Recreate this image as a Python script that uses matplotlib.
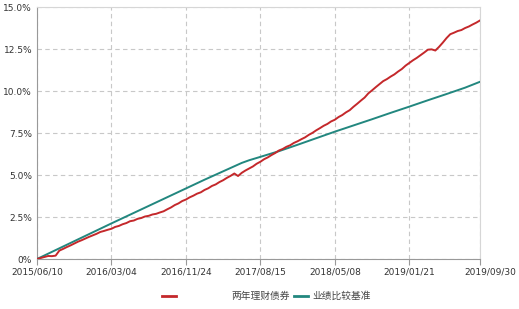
import matplotlib
matplotlib.use("Agg")
import matplotlib.pyplot as plt
import matplotlib.transforms as mtransforms
from matplotlib.lines import Line2D

# x positions are in "tick interval" units: 0 = 2015/06/10 ... 6 = 2019/09/30
TICK_POS = [0, 1, 2, 3, 4, 5, 5.95]
TICK_LABELS = ["2015/06/10", "2016/03/04", "2016/11/24", "2017/08/15",
               "2018/05/08", "2019/01/21", "2019/09/30"]

# 两年理财债券 cumulative return (%), sampled every 0.05 interval
FUND_STEP = 0.05
FUND = [0.00, 0.06, 0.12, 0.18, 0.17, 0.20, 0.50, 0.60, 0.71, 0.81,
        0.92, 1.03, 1.12, 1.22, 1.32, 1.41, 1.50, 1.61, 1.67, 1.74,
        1.80, 1.91, 1.97, 2.07, 2.14, 2.25, 2.29, 2.39, 2.44, 2.53,
        2.57, 2.65, 2.69, 2.77, 2.84, 2.96, 3.07, 3.21, 3.31, 3.45,
        3.54, 3.67, 3.77, 3.89, 3.97, 4.11, 4.21, 4.35, 4.44, 4.58,
        4.69, 4.83, 4.95, 5.09, 4.94, 5.13, 5.27, 5.39, 5.51, 5.67,
        5.79, 5.94, 6.05, 6.19, 6.31, 6.46, 6.55, 6.68, 6.77, 6.91,
        7.01, 7.13, 7.24, 7.39, 7.51, 7.66, 7.79, 7.93, 8.04, 8.19,
        8.29, 8.45, 8.57, 8.73, 8.86, 9.06, 9.24, 9.43, 9.61, 9.86,
        10.04, 10.23, 10.41, 10.59, 10.71, 10.86, 10.99, 11.16, 11.31, 11.51,
        11.67, 11.83, 11.97, 12.13, 12.29, 12.46, 12.48, 12.41, 12.63, 12.88,
        13.15, 13.38, 13.47, 13.57, 13.63, 13.75, 13.84, 13.96, 14.07, 14.20]

# 业绩比较基准 cumulative return (%)
BENCH_X = [0, 0.25, 0.5, 0.75, 1.0, 1.25, 1.5, 1.75, 2.0, 2.25, 2.5, 2.75,
           2.85, 3.0, 3.25, 3.5, 3.75, 4.0, 4.25, 4.5, 4.75, 5.0, 5.25, 5.5,
           5.75, 5.95]
BENCH = [0.00, 0.53, 1.06, 1.59, 2.12, 2.64, 3.16, 3.68, 4.20, 4.72, 5.22, 5.72,
         5.88, 6.08, 6.42, 6.80, 7.19, 7.58, 7.95, 8.32, 8.70, 9.07, 9.45, 9.82,
         10.20, 10.55]

Y_TICKS = [0, 2.5, 5.0, 7.5, 10.0, 12.5, 15.0]
Y_LABELS = ["0%", "2.5%", "5.0%", "7.5%", "10.0%", "12.5%", "15.0%"]

RED = "#c4282b"
TEAL = "#22877f"

fund_x = [i * FUND_STEP for i in range(len(FUND))]

fig = plt.figure(figsize=(5.19, 3.09), dpi=100)
ax = fig.add_axes([0.0713, 0.1618, 0.8536, 0.8155])

ax.plot(BENCH_X, BENCH, color=TEAL, lw=1.4, zorder=3)
ax.plot(fund_x, FUND, color=RED, lw=1.4, zorder=4)

ax.set_xlim(0, 5.95)
ax.set_ylim(0, 15)
ax.set_xticks(TICK_POS)
ax.set_xticklabels(TICK_LABELS)
ax.set_yticks(Y_TICKS)
ax.set_yticklabels(Y_LABELS)
ax.tick_params(axis="x", length=4, width=0.8, color="#999999", pad=2,
               labelsize=6.5, labelcolor="#333333")
ax.tick_params(axis="y", length=0, pad=3.5, labelsize=6.5, labelcolor="#333333")
# last date label sits a little right of the plot edge
last = ax.get_xticklabels()[-1]
last.set_transform(last.get_transform() +
                   mtransforms.ScaledTranslation(10 / 100, 0, fig.dpi_scale_trans))

ax.grid(True, ls=(0, (4, 3)), color="#c8c8c8", lw=0.8)
for s in ("left", "bottom"):
    ax.spines[s].set_color("#999999")
for s in ("top", "right"):
    ax.spines[s].set_color("#d6d6d6")

# legend drawn as in the source: handle, gap, label
W, H = 519, 309
y_leg = 1 - 296 / H
fig.add_artist(Line2D([162 / W, 176 / W], [y_leg, y_leg], color=RED, lw=2))
fig.text(231 / W, y_leg, "两年理财债券", fontsize=7, color="#444444", va="center",
         family=["Noto Sans CJK SC", "DejaVu Sans"])
fig.add_artist(Line2D([294 / W, 308 / W], [y_leg, y_leg], color=TEAL, lw=2))
fig.text(312 / W, y_leg, "业绩比较基准", fontsize=7, color="#444444", va="center",
         family=["Noto Sans CJK SC", "DejaVu Sans"])

fig.savefig("out.png", dpi=100)
